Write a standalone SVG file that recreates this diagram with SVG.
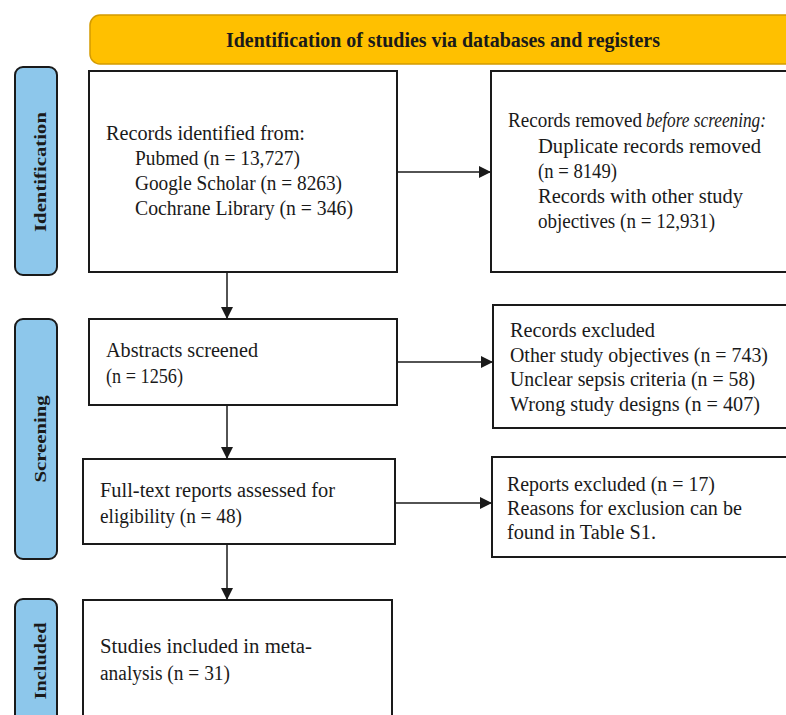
<svg xmlns="http://www.w3.org/2000/svg" width="786" height="715" viewBox="0 0 786 715">
<defs>
<style>
.box{fill:#fff;stroke:#1a1a1a;stroke-width:2}
.side{fill:#8dc7eb;stroke:#1a1a1a;stroke-width:2}
.t{font-family:"Liberation Serif","Times New Roman",serif;font-size:20.5px;fill:#1a1a1a}
.it{font-style:italic}
.st{font-family:"Liberation Serif","Times New Roman",serif;font-size:17px;font-weight:bold;fill:#1a1a1a}
.c{stroke:#1a1a1a;stroke-width:1.5;fill:none;marker-end:url(#ah)}
</style>
<marker id="ah" markerUnits="userSpaceOnUse" markerWidth="12" markerHeight="12" refX="12" refY="6" orient="auto">
<path d="M0,0 L12,6 L0,12 z" fill="#1a1a1a"/>
</marker>
</defs>
<rect width="786" height="715" fill="#fff"/>
<g id="banner">
<rect x="90" y="15" width="720" height="49" rx="10" fill="#ffc000" stroke="#d49b00" stroke-width="1.5"/>
<text class="st" x="226" y="47" style="font-size:20px" textLength="434" lengthAdjust="spacingAndGlyphs">Identification of studies via databases and registers</text>
</g>
<g id="label-identification">
<rect class="side" x="15" y="67" width="42" height="208" rx="8"/>
<text class="st" transform="translate(46,172) rotate(-90)" text-anchor="middle" textLength="120" lengthAdjust="spacingAndGlyphs">Identification</text>
</g>
<g id="label-screening">
<rect class="side" x="15" y="319" width="42" height="240" rx="8"/>
<text class="st" transform="translate(46,439) rotate(-90)" text-anchor="middle" textLength="87" lengthAdjust="spacingAndGlyphs">Screening</text>
</g>
<g id="label-included">
<rect class="side" x="15" y="599" width="42" height="140" rx="8"/>
<text class="st" transform="translate(46,661) rotate(-90)" text-anchor="middle" textLength="77" lengthAdjust="spacingAndGlyphs">Included</text>
</g>
<g id="records-identified">
<rect class="box" x="89" y="71" width="308" height="201"/>
<text class="t" x="106" y="140" textLength="199" lengthAdjust="spacingAndGlyphs">Records identified from:</text>
<text class="t" x="135" y="165" textLength="165" lengthAdjust="spacingAndGlyphs">Pubmed (n = 13,727)</text>
<text class="t" x="135" y="190" textLength="207" lengthAdjust="spacingAndGlyphs">Google Scholar (n = 8263)</text>
<text class="t" x="135" y="215" textLength="218" lengthAdjust="spacingAndGlyphs">Cochrane Library (n = 346)</text>
</g>
<g id="records-removed">
<rect class="box" x="491" y="71" width="310" height="201"/>
<text class="t" x="508" y="127" textLength="134" lengthAdjust="spacingAndGlyphs">Records removed</text>
<text class="t it" x="646" y="127" textLength="120" lengthAdjust="spacingAndGlyphs">before screening:</text>
<text class="t" x="538" y="153" textLength="223" lengthAdjust="spacingAndGlyphs">Duplicate records removed</text>
<text class="t" x="538" y="178" textLength="79" lengthAdjust="spacingAndGlyphs">(n = 8149)</text>
<text class="t" x="538" y="203" textLength="205" lengthAdjust="spacingAndGlyphs">Records with other study</text>
<text class="t" x="538" y="228" textLength="177" lengthAdjust="spacingAndGlyphs">objectives (n = 12,931)</text>
</g>
<g id="abstracts-screened">
<rect class="box" x="89" y="319" width="308" height="86"/>
<text class="t" x="106" y="357" textLength="152" lengthAdjust="spacingAndGlyphs">Abstracts screened</text>
<text class="t" x="106" y="383" textLength="77" lengthAdjust="spacingAndGlyphs">(n = 1256)</text>
</g>
<g id="records-excluded">
<rect class="box" x="493" y="305" width="310" height="123"/>
<text class="t" x="510" y="337" textLength="145" lengthAdjust="spacingAndGlyphs">Records excluded</text>
<text class="t" x="510" y="362" textLength="258" lengthAdjust="spacingAndGlyphs">Other study objectives (n = 743)</text>
<text class="t" x="510" y="386" textLength="245" lengthAdjust="spacingAndGlyphs">Unclear sepsis criteria (n = 58)</text>
<text class="t" x="510" y="411" textLength="250" lengthAdjust="spacingAndGlyphs">Wrong study designs (n = 407)</text>
</g>
<g id="full-text">
<rect class="box" x="83" y="459" width="312" height="85"/>
<text class="t" x="100" y="497" textLength="235" lengthAdjust="spacingAndGlyphs">Full-text reports assessed for</text>
<text class="t" x="100" y="523" textLength="142" lengthAdjust="spacingAndGlyphs">eligibility (n = 48)</text>
</g>
<g id="reports-excluded">
<rect class="box" x="492" y="457" width="310" height="100"/>
<text class="t" x="507" y="491" textLength="208" lengthAdjust="spacingAndGlyphs">Reports excluded (n = 17)</text>
<text class="t" x="507" y="515" textLength="235" lengthAdjust="spacingAndGlyphs">Reasons for exclusion can be</text>
<text class="t" x="507" y="539" textLength="149" lengthAdjust="spacingAndGlyphs">found in Table S1.</text>
</g>
<g id="studies-included">
<rect class="box" x="83" y="600" width="309" height="140"/>
<text class="t" x="100" y="653" textLength="212" lengthAdjust="spacingAndGlyphs">Studies included in meta-</text>
<text class="t" x="100" y="680" textLength="130" lengthAdjust="spacingAndGlyphs">analysis (n = 31)</text>
</g>
<g id="connectors">
<line class="c" x1="227" y1="272" x2="227" y2="319"/>
<line class="c" x1="397" y1="172" x2="491" y2="172"/>
<line class="c" x1="227" y1="405" x2="227" y2="459"/>
<line class="c" x1="397" y1="362" x2="493" y2="362"/>
<line class="c" x1="227" y1="544" x2="227" y2="600"/>
<line class="c" x1="395" y1="503" x2="492" y2="503"/>
</g>
</svg>
